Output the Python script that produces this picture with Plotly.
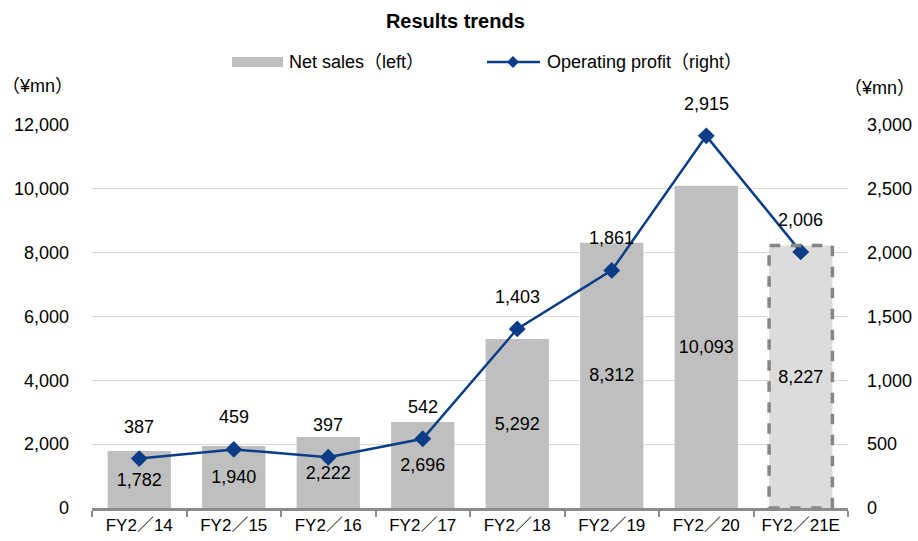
import plotly.graph_objects as go

years = ["FY2／14", "FY2／15", "FY2／16", "FY2／17", "FY2／18", "FY2／19", "FY2／20", "FY2／21E"]
net_sales = [1782, 1940, 2222, 2696, 5292, 8312, 10093, 8227]
op_profit = [387, 459, 397, 542, 1403, 1861, 2915, 2006]

FONT = "Liberation Sans, Noto Sans CJK JP, sans-serif"
NAVY = "#0b3d87"
GREY = "#bfbfbf"
FS = 18

# plot area in pixels (for the hand-drawn legend in paper coords)
L, R, T, B = 92, 848, 125, 508
def px(x):
    return (x - L) / (R - L)
def py(y):
    return (B - y) / (B - T)

bar_fill = [GREY] * (len(years) - 1) + ["#dcdcdc"]

fig = go.Figure()
fig.add_trace(go.Bar(
    x=years, y=net_sales, name="Net sales (left)",
    marker=dict(color=bar_fill, line=dict(width=0)),
    text=[f"{v:,}" for v in net_sales], textposition="inside",
    insidetextanchor="middle", constraintext="none",
    textfont=dict(size=FS, color="black", family=FONT),
))
fig.add_trace(go.Scatter(
    x=years, y=op_profit, name="Operating profit (right)", yaxis="y2",
    mode="lines+markers", line=dict(color=NAVY, width=2.5),
    marker=dict(symbol="diamond", size=13, color=NAVY),
))

# dashed outline around the forecast bar
fig.add_shape(type="rect", xref="x", yref="y",
              x0=len(years) - 1 - 0.335, x1=len(years) - 1 + 0.335,
              y0=0, y1=net_sales[-1],
              line=dict(color="#868686", width=3.5, dash="dash"))

for yr, v in zip(years, op_profit):
    fig.add_annotation(x=yr, y=v, yref="y2", text=f"{v:,}", showarrow=False,
                       yshift=32, font=dict(size=FS, color="black", family=FONT))

# legend, drawn by hand so the swatches look like the original
fig.add_shape(type="rect", xref="paper", yref="paper",
              x0=px(232), x1=px(283), y0=py(67), y1=py(57),
              fillcolor=GREY, line=dict(width=0))
fig.add_annotation(text="Net sales（left）", xref="paper", yref="paper", x=px(287), y=py(62),
                   xanchor="left", yanchor="middle", showarrow=False,
                   font=dict(size=FS, family=FONT, color="black"))
fig.add_shape(type="line", xref="paper", yref="paper",
              x0=px(487), x1=px(540), y0=py(62), y1=py(62),
              line=dict(color=NAVY, width=2.5))
fig.add_shape(type="path", xref="paper", yref="paper",
              path=f"M {px(507)} {py(62)} L {px(513)} {py(56)} L {px(519)} {py(62)} "
                   f"L {px(513)} {py(68)} Z",
              fillcolor=NAVY, line=dict(width=0))
fig.add_annotation(text="Operating profit（right）", xref="paper", yref="paper", x=px(545), y=py(62),
                   xanchor="left", yanchor="middle", showarrow=False,
                   font=dict(size=FS, family=FONT, color="black"))

# unit labels
fig.add_annotation(text="（¥mn）", xref="paper", yref="paper", x=px(0), y=py(86),
                   xanchor="left", yanchor="middle", showarrow=False,
                   font=dict(size=18, family=FONT, color="black"))
fig.add_annotation(text="（¥mn）", xref="paper", yref="paper", x=px(917), y=py(88),
                   xanchor="right", yanchor="middle", showarrow=False,
                   font=dict(size=18, family=FONT, color="black"))

fig.update_layout(
    width=918, height=541,
    margin=dict(l=L, r=918 - R, t=T, b=541 - B),
    plot_bgcolor="white", paper_bgcolor="white",
    font=dict(family=FONT, size=FS, color="black"),
    title=dict(text="<b>Results trends</b>", x=px(467), xanchor="center", y=1 - 21 / 541,
               yanchor="middle", font=dict(size=20, family=FONT, color="black")),
    bargap=0.33,
    showlegend=False,
    xaxis=dict(showline=True, linecolor="#8c8c8c", linewidth=2.5, ticks="outside",
               tickson="boundaries", ticklen=6, tickcolor="#8c8c8c", tickwidth=2,
               tickfont=dict(size=17), automargin=False),
    yaxis=dict(range=[0, 12000], dtick=2000, tickformat=",", showgrid=True,
               gridcolor="#d9d9d9", gridwidth=1, zeroline=False, ticks="",
               ticklabelstandoff=22, tickfont=dict(size=FS), automargin=False),
    yaxis2=dict(range=[0, 3000], dtick=500, tickformat=",", overlaying="y", side="right",
                showgrid=False, zeroline=False, ticklabelstandoff=18,
                tickfont=dict(size=FS), automargin=False),
)

# the page's default 8px body margin would shift the figure
fig.write_html("out.html", config={"displayModeBar": False},
               post_script="document.body.style.margin='0';")
